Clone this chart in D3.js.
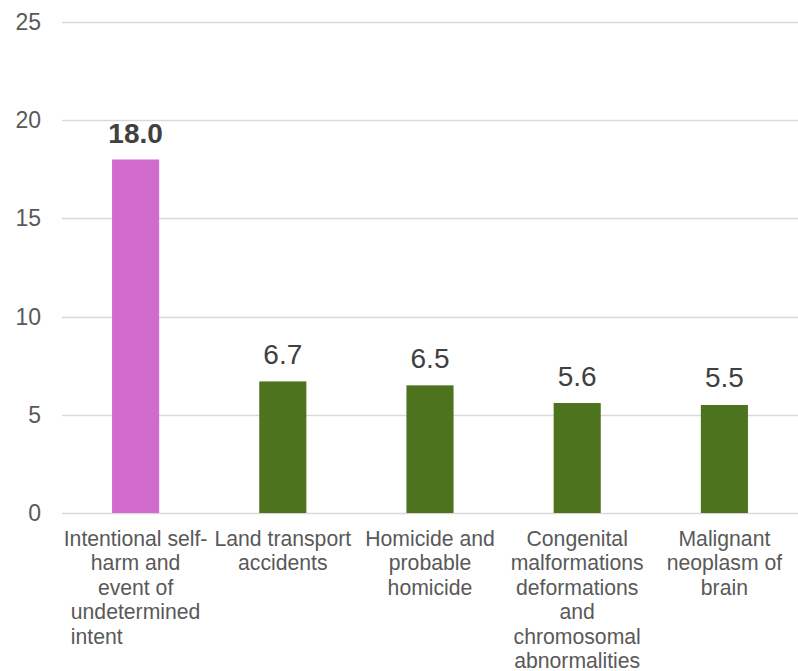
<!DOCTYPE html>
<html>
<head>
<meta charset="utf-8">
<script src="https://cdn.jsdelivr.net/npm/d3@7"></script>
<style>
  body { margin: 0; background: #fff; }
  text { font-family: "Liberation Sans", Arial, sans-serif; }
</style>
</head>
<body>
<svg id="chart" width="798" height="671"></svg>
<script>
// data
var categories = [
  ['Intentional self-', 'harm and', 'event of', 'undetermined', 'intent'],
  ['Land transport', 'accidents'],
  ['Homicide and', 'probable', 'homicide'],
  ['Congenital', 'malformations', 'deformations', 'and', 'chromosomal', 'abnormalities'],
  ['Malignant', 'neoplasm of', 'brain']
];
var values = [18.0, 6.7, 6.5, 5.6, 5.5];
var yTicks = [0, 5, 10, 15, 20, 25];

var svg = d3.select('#chart');
var margin = { left: 62, right: 0, top: 22, bottom: 158 };
var width = +svg.attr('width');
var height = +svg.attr('height');

var x = d3.scaleBand()
    .domain(d3.range(values.length))
    .range([margin.left, width - margin.right])
    .paddingInner(0.68)
    .paddingOuter(0.34);

var y = d3.scaleLinear()
    .domain([0, 25])
    .range([height - margin.bottom, margin.top]);

// gridlines
svg.append('g')
    .selectAll('line')
    .data(yTicks)
    .enter().append('line')
    .attr('x1', margin.left)
    .attr('x2', width - margin.right)
    .attr('y1', d => Math.round(y(d)) + 0.5)
    .attr('y2', d => Math.round(y(d)) + 0.5)
    .style('stroke', '#d9d9d9')
    .style('stroke-width', 1.5);

// y tick labels
svg.append('g')
    .selectAll('text')
    .data(yTicks)
    .enter().append('text')
    .attr('x', 41)
    .attr('y', d => y(d))
    .attr('dy', '0.35em')
    .attr('text-anchor', 'end')
    .style('font-size', '23px')
    .style('fill', '#595959')
    .text(d => d);

// bars
svg.append('g')
    .selectAll('rect')
    .data(values)
    .enter().append('rect')
    .attr('x', (d, i) => x(i))
    .attr('y', d => y(d))
    .attr('width', x.bandwidth())
    .attr('height', d => y(0) - y(d))
    .style('fill', (d, i) => i === 0 ? '#d16bcd' : '#4e731f');

// value labels
svg.append('g')
    .selectAll('text')
    .data(values)
    .enter().append('text')
    .attr('x', (d, i) => x(i) + x.bandwidth() / 2)
    .attr('y', (d, i) => y(d) - (i === 0 ? 16 : 17.5))
    .attr('text-anchor', 'middle')
    .style('font-size', '28px')
    .style('font-weight', (d, i) => i === 0 ? 'bold' : 'normal')
    .style('fill', '#404040')
    .text(d => d.toFixed(1));

// category labels, one tspan per line
var catLabels = svg.append('g')
    .selectAll('text')
    .data(categories)
    .enter().append('text')
    .attr('text-anchor', 'middle')
    .style('font-size', '21.2px')
    .style('fill', '#595959');

catLabels.selectAll('tspan')
    .data((d, i) => d.map(line => ({ line: line, i: i })))
    .enter().append('tspan')
    .attr('x', d => x(d.i) + x.bandwidth() / 2)
    .attr('y', (d, j) => 546 + j * 24.4)
    .text(d => d.line);

// the first label's last line sits flush left with the line above it
var first = catLabels.filter((d, i) => i === 0).selectAll('tspan').nodes();
var prev = first[first.length - 2];
var last = first[first.length - 1];
var cx = x(0) + x.bandwidth() / 2;
d3.select(last)
    .attr('x', cx - prev.getComputedTextLength() / 2 + last.getComputedTextLength() / 2);
</script>
</body>
</html>
